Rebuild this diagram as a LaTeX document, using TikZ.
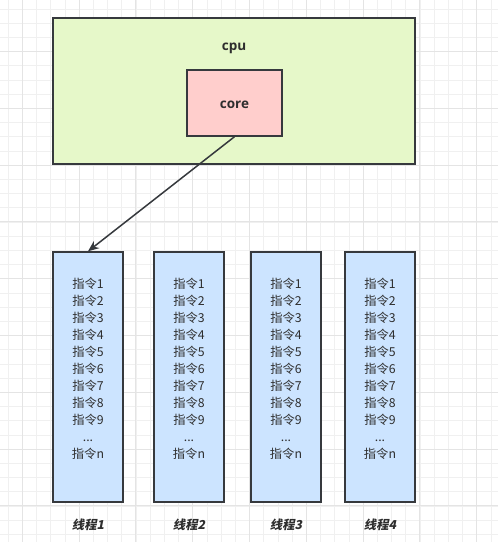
\documentclass[tikz,border=0pt]{standalone}
\usepackage{fontspec}
\setmainfont{Open Sans}
\newfontfamily\cjk{Noto Sans CJK SC}
\newfontfamily\cjklabel{Noto Sans CJK SC}[BoldFeatures={FakeSlant=0.2}]
\usetikzlibrary{arrows.meta}

\definecolor{edge}{HTML}{36393D}
\definecolor{cpufill}{HTML}{E6F8C9}
\definecolor{corefill}{HTML}{FFCECC}
\definecolor{threadfill}{HTML}{CCE4FF}
\definecolor{ink}{HTML}{2E2E2E}
\definecolor{gridminor}{HTML}{F0F0F0}
\definecolor{gridmajor}{HTML}{E4E4E4}

\begin{document}
\begin{tikzpicture}[x=1pt,y=-1pt,
    box/.style={draw=edge,line width=1.4pt,inner sep=0pt},
    instr/.style={text=ink,align=center,font=\cjk\fontsize{12.3}{17}\selectfont},
    threadlbl/.style={text=ink,font=\cjklabel\bfseries\fontsize{12.3}{14}\selectfont}]
        \useasboundingbox (0,0) rectangle (498,542);
        \fill[white] (0,0) rectangle (498,542);

        % background grid
        \foreach \k in {0,...,34}
            \draw[gridminor,line width=0.6pt] ({8+14.2*\k},0) -- ({8+14.2*\k},542);
        \foreach \k in {0,...,37}
            \draw[gridminor,line width=0.6pt] (0,{8.8+14.2*\k}) -- (498,{8.8+14.2*\k});
        \foreach \k in {0,...,8}
            \draw[gridmajor,line width=0.8pt] ({8+56.8*\k+14.2},0) -- ({8+56.8*\k+14.2},542);
        \foreach \k in {0,...,9}
            \draw[gridmajor,line width=0.8pt] (0,{8.8+56.8*\k-14.2}) -- (498,{8.8+56.8*\k-14.2});

        % cpu and core
        \node[box,fill=cpufill,minimum width=362pt,minimum height=146pt] (cpu) at (234,91) {};
        \node[text=ink,font=\bfseries\fontsize{13.5}{15}\selectfont] (cpulbl) at (234,48) {cpu};
        \node[box,fill=corefill,minimum width=95pt,minimum height=66pt] (core) at (234.5,103) {};
        \node[text=ink,font=\bfseries\fontsize{13.5}{15}\selectfont] (corelbl) at (234.5,105) {core};

        % threads
        \foreach \x/\n in {88/1,189/2,286/3,380/4} {
            \node[box,fill=threadfill,minimum width=70pt,minimum height=250pt] (t\n) at (\x,377) {};
            \node[instr] (ins\n) at (\x,369)
                {指令1\\指令2\\指令3\\指令4\\指令5\\指令6\\指令7\\指令8\\指令9\\...\\指令n};
            \node[threadlbl] (lbl\n) at (\x,525) {线程\n};
        }

        \draw[edge,line width=1.5pt,-{Stealth[length=11pt,width=9pt]}] (core.south) -- (t1.north);
\end{tikzpicture}
\end{document}
